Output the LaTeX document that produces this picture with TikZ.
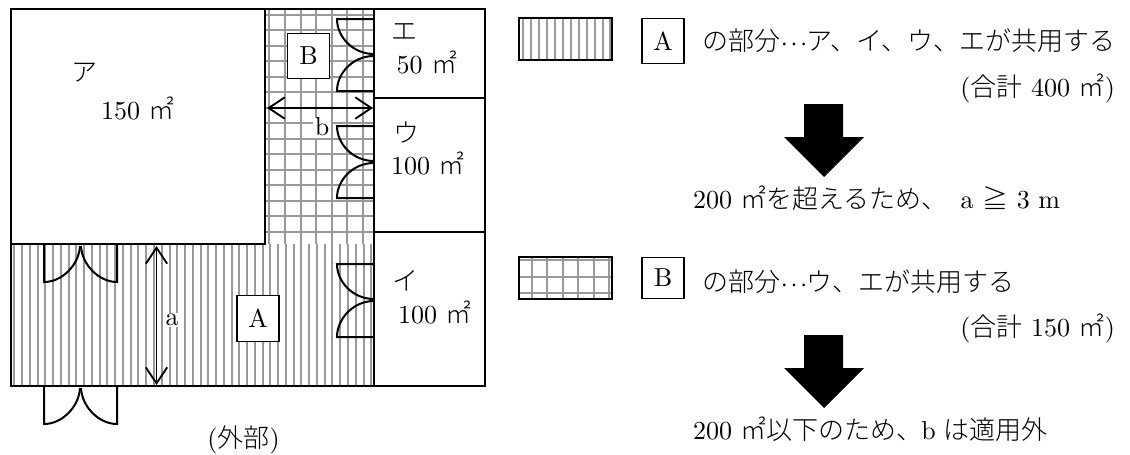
\documentclass[tikz,border=0pt]{standalone}
\usepackage{fontspec}
\usetikzlibrary{arrows.meta}
\setmainfont[Extension=.otf]{lmroman10-regular}
\newfontfamily\jpfont[UprightFont={* Light}]{Noto Sans CJK JP}
\newcommand{\jp}[1]{{\jpfont #1}}
\newcommand{\heibei}{{\jpfont ㎡}}
\newcommand{\middots}{\raisebox{0.2em}{\jpfont ⋯}}
\tikzset{every picture/.style={line width=1.5pt}}
\tikzset{
	hatchline/.style={line width=1.5pt,color=black!40},
	wallline/.style={line width=1.7pt},
	doorline/.style={line width=1.5pt},
	dimarrow/.style={line width=1.4pt,{Straight Barb[length=12pt,width=16pt]}-{Straight Barb[length=12pt,width=16pt]}},
	labelbox/.style={draw,line width=0.9pt,fill=white,inner sep=0pt,minimum width=31.5pt,minimum height=34pt},
	plaintext/.style={inner sep=0pt,font=\fontsize{19.5}{23}\selectfont},
	whitetext/.style={plaintext,fill=white,inner sep=1pt}}

\begin{document}
\begin{tikzpicture}[x=0.75pt,y=0.75pt,yscale=-1,xscale=1]
	\useasboundingbox (0,0) rectangle (1130,454);

	%Shape: hatch of part A
	\foreach \k in {0,...,46} \draw [hatchline] ({14.3+7.76*\k},244) -- ({14.3+7.76*\k},386);
	%Shape: hatch of part B
	\foreach \k in {0,...,6} \draw [hatchline] ({269.3+15.6*\k},9) -- ({269.3+15.6*\k},244);
	\foreach \k in {0,...,14} \draw [hatchline] (265,{14.7+15.5*\k}) -- (374,{14.7+15.5*\k});

	%Shape: Walls
	\draw [wallline,fill=white] (11,9) rectangle (265,244);
	\draw [wallline] (11,244) -- (11,386) -- (374,386) -- (374,9);
	\draw [wallline] (265,9) -- (485,9) -- (485,386) -- (374,386);
	\draw [wallline] (374,98) -- (485,98);
	\draw [wallline] (374,232) -- (485,232);

	%Shape: Doors of the rooms on the right
	\draw [doorline] (374,19) -- (337,19) .. controls (337,37) and (353,54) .. (374,54);
	\draw [doorline] (374,91) -- (337,91) .. controls (337,73) and (353,56) .. (374,56);
	\draw [doorline] (374,126) -- (337,126) .. controls (337,144) and (353,161) .. (374,161);
	\draw [doorline] (374,198) -- (337,198) .. controls (337,180) and (353,163) .. (374,163);
	\draw [doorline] (374,264) -- (337,264) .. controls (337,282) and (353,299) .. (374,299);
	\draw [doorline] (374,337) -- (337,337) .. controls (337,319) and (353,301) .. (374,301);
	%Shape: Door of room A and outer door
	\draw [doorline] (44,244) -- (44,282) .. controls (62,282) and (79,265) .. (80,246);
	\draw [doorline] (117,244) -- (117,282) .. controls (99,282) and (82,265) .. (81,246);
	\draw [doorline] (44,386) -- (44,424) .. controls (62,424) and (79,407) .. (80,388);
	\draw [doorline] (117,386) -- (117,424) .. controls (99,424) and (82,407) .. (81,388);

	%Shape: Dimension arrows
	\coordinate (aTop) at (156.5,246);
	\coordinate (aBottom) at (156.5,385);
	\coordinate (bLeft) at (267,108);
	\coordinate (bRight) at (373,108);
	\draw [dimarrow] (aTop) -- (aBottom);
	\draw [dimarrow] (bLeft) -- (bRight);

	%Shape: Legend swatch A
	\foreach \k in {0,...,11} \draw [hatchline] ({523+7.95*\k},18) -- ({523+7.95*\k},60);
	\draw [wallline] (519,18) rectangle (612,60);
	%Shape: Legend swatch B
	\foreach \k in {0,...,5} \draw [hatchline] ({531.6+15.5*\k},257) -- ({531.6+15.5*\k},299);
	\foreach \k in {0,...,2} \draw [hatchline] (519,{260+16.5*\k}) -- (612,{260+16.5*\k});
	\draw [wallline] (519,257) rectangle (612,299);

	%Shape: Block arrows
	\fill (804,104) -- (843,104) -- (843,137) -- (864,137) -- (824,177) -- (784,137) -- (804,137) -- cycle;
	\fill (804,335) -- (843,335) -- (843,368) -- (864,368) -- (824,408) -- (784,368) -- (804,368) -- cycle;

	% Text Node
	\draw (84.5,72.5) node [plaintext] (roomA) {\jp{ア}};
	% Text Node
	\draw (138,108) node [plaintext] (areaA) {150 \heibei};
	% Text Node
	\draw (404,32) node [plaintext] (roomE) {\jp{エ}};
	% Text Node
	\draw (427,62) node [plaintext] (areaE) {50 \heibei};
	% Text Node
	\draw (406,133) node [plaintext] (roomU) {\jp{ウ}};
	% Text Node
	\draw (428,163) node [plaintext] (areaU) {100 \heibei};
	% Text Node
	\draw (405,281) node [plaintext] (roomI) {\jp{イ}};
	% Text Node
	\draw (435,312) node [plaintext] (areaI) {100 \heibei};
	% Text Node
	\draw (243.5,440) node [plaintext] (outside) {(\jp{外部})};
	% Text Node
	\draw (172,320) node [whitetext] (labelA) {a};
	% Text Node
	\draw (322,127) node [whitetext] (labelB) {b};
	% Text Node
	\draw (258,318.5) node [labelbox,plaintext,inner sep=0pt] (boxA) {A};
	% Text Node
	\draw (308.5,56) node [labelbox,plaintext,inner sep=0pt] (boxB) {B};
	% Text Node
	\draw (663,41) node [labelbox,plaintext,inner sep=0pt] (legendA) {A};
	% Text Node
	\draw (663,278) node [labelbox,plaintext,inner sep=0pt,minimum height=31pt] (legendB) {B};
	% Text Node
	\draw (701,41) node [plaintext,anchor=west] (textA) {\jp{の部分}\middots\jp{ア、イ、ウ、エが共用する}};
	% Text Node
	\draw (1116,88) node [plaintext,anchor=east] (sumA) {(\jp{合計} 400 \heibei)};
	% Text Node
	\draw (692,198) node [plaintext,anchor=west] (resultA) {200 \heibei\jp{を超えるため、}\hspace{3pt} a \jp{≧} 3 m};
	% Text Node
	\draw (701,282) node [plaintext,anchor=west] (textB) {\jp{の部分}\middots\jp{ウ、エが共用する}};
	% Text Node
	\draw (1116,328) node [plaintext,anchor=east] (sumB) {(\jp{合計} 150 \heibei)};
	% Text Node
	\draw (692,429) node [plaintext,anchor=west] (resultB) {200 \heibei\jp{以下のため、}\hspace{-1pt}b\hspace{-1pt} \jp{は適用外}};
\end{tikzpicture}
\end{document}
